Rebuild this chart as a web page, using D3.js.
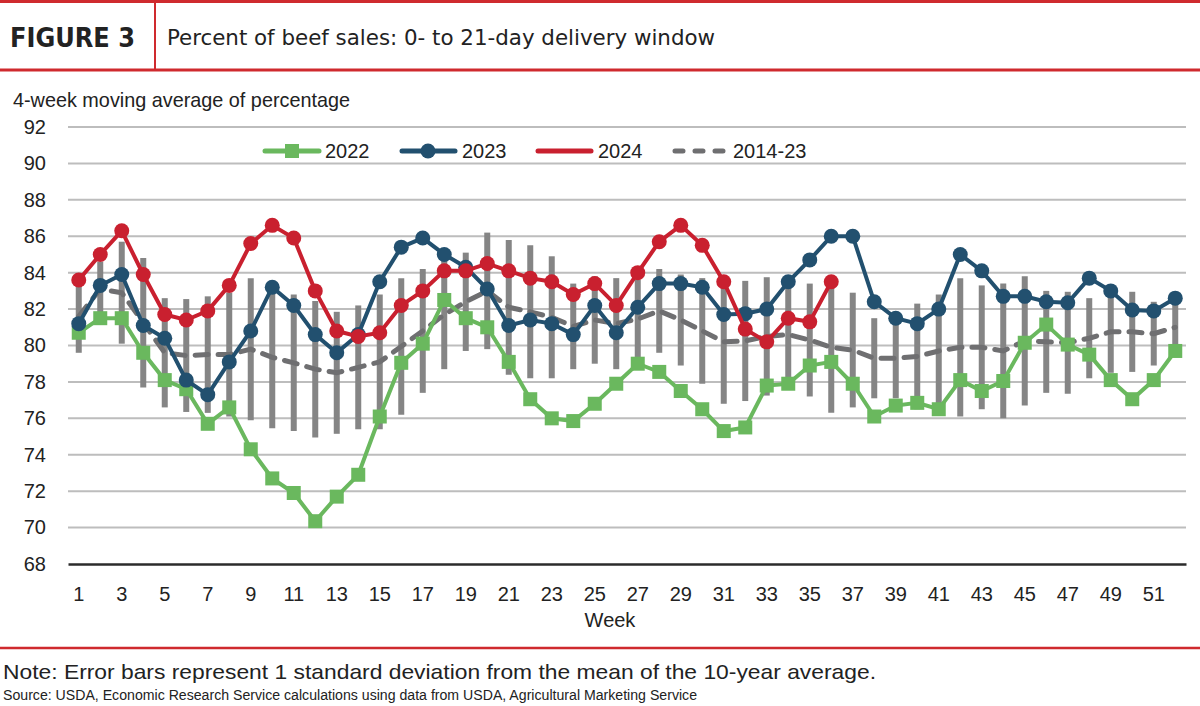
<!DOCTYPE html>
<html>
<head>
<meta charset="utf-8">
<script src="https://cdn.jsdelivr.net/npm/d3@7"></script>
<style>
  body { margin: 0; background: #fff; }
  svg { display: block; }
  .tick text { font-family: "Liberation Sans", Arial, sans-serif; font-size: 20px; fill: #222; }
</style>
</head>
<body>
<div id="chart"></div>
<script>
var weeks = d3.range(1, 53);
var yTicks = [68, 70, 72, 74, 76, 78, 80, 82, 84, 86, 88, 90, 92];
var xTicks = [1, 3, 5, 7, 9, 11, 13, 15, 17, 19, 21, 23, 25, 27, 29, 31, 33, 35, 37, 39, 41, 43, 45, 47, 49, 51];

var y2022 = [80.7, 81.5, 81.5, 79.6, 78.1, 77.6, 75.7, 76.6, 74.3, 72.7, 71.9, 70.35, 71.7, 72.9, 76.1, 79.05, 80.1, 82.5, 81.5, 81.0,
  79.1, 77.05, 76.0, 75.85, 76.8, 77.9, 79.0, 78.55, 77.5, 76.5, 75.3, 75.5, 77.8, 77.9, 78.9, 79.1, 77.9, 76.1, 76.7, 76.85,
  76.5, 78.1, 77.5, 78.05, 80.15, 81.15, 80.05, 79.5, 78.1, 77.05, 78.1, 79.7];
var y2023 = [81.2, 83.3, 83.9, 81.1, 80.4, 78.1, 77.3, 79.1, 80.8, 83.2, 82.2, 80.6, 79.6, 80.6, 83.5, 85.4, 85.9, 85.0, 84.3, 83.1,
  81.1, 81.4, 81.2, 80.6, 82.2, 80.7, 82.1, 83.4, 83.4, 83.2, 81.7, 81.75, 82.0, 83.5, 84.7, 86.0, 86.0, 82.4, 81.5, 81.2,
  82.0, 85.0, 84.1, 82.7, 82.7, 82.4, 82.35, 83.7, 83.0, 81.95, 81.9, 82.6];
var y2024 = [83.6, 85.0, 86.3, 83.9, 81.7, 81.4, 81.9, 83.3, 85.6, 86.6, 85.9, 83.0, 80.8, 80.5, 80.7, 82.2, 83.0, 84.1, 84.1, 84.5,
  84.1, 83.7, 83.5, 82.8, 83.4, 82.2, 84.0, 85.7, 86.6, 85.5, 83.5, 80.9, 80.2, 81.5, 81.3, 83.5];
// 10-year average (2014-23) and its standard deviation
var avg1423 = [81.6, 83.1, 82.9, 81.25, 79.6, 79.45, 79.5, 79.5, 79.8, 79.35, 79.05, 78.7, 78.5, 78.8, 79.1, 79.95, 80.8, 81.7, 82.4, 83.0,
  82.1, 81.85, 81.55, 81.05, 81.4, 81.2, 81.45, 81.9, 81.4, 80.8, 80.2, 80.25, 80.5, 80.6, 80.3, 79.9, 79.75, 79.3, 79.3, 79.4,
  79.7, 79.9, 79.9, 79.7, 80.25, 80.2, 80.15, 80.4, 80.75, 80.75, 80.65, 81.0];
var sd1423 = [2.0, 1.5, 2.8, 3.55, 3.0, 3.1, 3.2, 3.4, 3.9, 3.9, 3.75, 3.75, 3.35, 3.4, 3.7, 3.75, 3.4, 3.0, 2.7, 3.2,
  3.7, 3.65, 3.35, 2.35, 2.4, 2.5, 2.15, 2.3, 2.5, 2.9, 3.4, 3.3, 3.25, 3.0, 3.1, 3.6, 3.15, 2.2, 2.2, 2.9,
  3.1, 3.8, 3.4, 3.7, 3.55, 2.8, 2.8, 2.2, 2.25, 2.2, 1.75, 1.6];

var w = 1200;
var h = 706;
var green = "#6ab85e", blue = "#22506f", red = "#c9202f", barGrey = "#858585", dashGrey = "#6f6f71", hdrRed = "#cf2a2e";
var sans = '"Liberation Sans", Arial, sans-serif';

var svg = d3.select("#chart").append("svg").attr("width", w).attr("height", h);

// header
svg.append("line").attr("x1", 0).attr("x2", w).attr("y1", 1.5).attr("y2", 1.5).style("stroke", hdrRed).style("stroke-width", 3);
svg.append("line").attr("x1", 0).attr("x2", w).attr("y1", 70).attr("y2", 70).style("stroke", hdrRed).style("stroke-width", 3);
svg.append("line").attr("x1", 155).attr("x2", 155).attr("y1", 0).attr("y2", 70).style("stroke", hdrRed).style("stroke-width", 2);
svg.append("text").attr("x", 10).attr("y", 47).text("FIGURE 3")
  .attr("textLength", 125).attr("lengthAdjust", "spacingAndGlyphs")
  .style("font-family", "'DejaVu Sans Condensed', sans-serif").style("font-weight", "bold").style("font-size", "27px").style("fill", "#222");
svg.append("text").attr("x", 167).attr("y", 45).text("Percent of beef sales: 0- to 21-day delivery window")
  .attr("textLength", 548).attr("lengthAdjust", "spacingAndGlyphs")
  .style("font-family", "'DejaVu Sans Condensed', sans-serif").style("font-size", "22px").style("fill", "#222");

svg.append("text").attr("x", 13).attr("y", 107).text("4-week moving average of percentage")
  .attr("textLength", 337).attr("lengthAdjust", "spacingAndGlyphs")
  .style("font-family", sans).style("font-size", "21px").style("fill", "#222");

var xScale = d3.scaleBand().domain(weeks).range([68, 1186]);
var yScale = d3.scaleLinear().domain([68, 92]).range([564, 127]);
function xc(d) { return xScale(d) + xScale.bandwidth() / 2; }

// gridlines
svg.selectAll(".grid").data(yTicks.slice(1)).enter().append("line").attr("class", "grid")
  .attr("x1", 68).attr("x2", 1186)
  .attr("y1", function(d) { return yScale(d); }).attr("y2", function(d) { return yScale(d); })
  .style("stroke", "#bdbdbd").style("stroke-width", 2);

var yAxis = d3.axisLeft(yScale).tickValues(yTicks).tickSize(0).tickPadding(12);
svg.append("g").attr("transform", "translate(58,0)").call(yAxis).call(function(g) { g.select(".domain").remove(); });

var xAxis = d3.axisBottom(xScale).tickValues(xTicks).tickSize(0).tickPadding(23);
svg.append("g").attr("transform", "translate(0," + yScale(68) + ")").call(xAxis)
  .call(function(g) { g.select(".domain").style("stroke", "#2b2b2b").style("stroke-width", 2.5); });

svg.append("text").attr("x", 610).attr("y", 627).attr("text-anchor", "middle").text("Week")
  .style("font-family", sans).style("font-size", "20px").style("fill", "#222");

// error bars: 1 sd around the 10-year mean
svg.selectAll(".ebar").data(weeks).enter().append("line").attr("class", "ebar")
  .attr("x1", function(d) { return xc(d); }).attr("x2", function(d) { return xc(d); })
  .attr("y1", function(d, i) { return yScale(avg1423[i] + sd1423[i]); })
  .attr("y2", function(d, i) { return yScale(avg1423[i] - sd1423[i]); })
  .style("stroke", barGrey).style("stroke-width", 6);

var line = d3.line().x(function(d) { return xc(d[0]); }).y(function(d) { return yScale(d[1]); });
function pairs(vals) { return vals.map(function(v, i) { return [weeks[i], v]; }); }

svg.append("path").datum(pairs(avg1423)).attr("d", line)
  .style("fill", "none").style("stroke", dashGrey).style("stroke-width", 5)
  .style("stroke-dasharray", "13 10").style("stroke-linecap", "round");

// 2022
svg.append("path").datum(pairs(y2022)).attr("d", line).style("fill", "none").style("stroke", green).style("stroke-width", 4);
svg.selectAll(".m22").data(pairs(y2022)).enter().append("rect").attr("class", "m22")
  .attr("x", function(d) { return xc(d[0]) - 7; }).attr("y", function(d) { return yScale(d[1]) - 7; })
  .attr("width", 14).attr("height", 14).style("fill", green);

// 2023
svg.append("path").datum(pairs(y2023)).attr("d", line).style("fill", "none").style("stroke", blue).style("stroke-width", 4);
svg.selectAll(".m23").data(pairs(y2023)).enter().append("circle").attr("class", "m23")
  .attr("cx", function(d) { return xc(d[0]); }).attr("cy", function(d) { return yScale(d[1]); })
  .attr("r", 7.5).style("fill", blue);

// 2024
svg.append("path").datum(pairs(y2024)).attr("d", line).style("fill", "none").style("stroke", red).style("stroke-width", 4);
svg.selectAll(".m24").data(pairs(y2024)).enter().append("circle").attr("class", "m24")
  .attr("cx", function(d) { return xc(d[0]); }).attr("cy", function(d) { return yScale(d[1]); })
  .attr("r", 7.5).style("fill", red);

// legend
var ly = 151;
var lg = svg.append("g");
lg.append("line").attr("x1", 265).attr("x2", 319).attr("y1", ly).attr("y2", ly).style("stroke", green).style("stroke-width", 5).style("stroke-linecap", "round");
lg.append("rect").attr("x", 285).attr("y", ly - 7).attr("width", 14).attr("height", 14).style("fill", green);
lg.append("line").attr("x1", 402).attr("x2", 455).attr("y1", ly).attr("y2", ly).style("stroke", blue).style("stroke-width", 5).style("stroke-linecap", "round");
lg.append("circle").attr("cx", 428).attr("cy", ly).attr("r", 7.5).style("fill", blue);
lg.append("line").attr("x1", 538).attr("x2", 591).attr("y1", ly).attr("y2", ly).style("stroke", red).style("stroke-width", 5).style("stroke-linecap", "round");
lg.append("line").attr("x1", 675).attr("x2", 727).attr("y1", ly).attr("y2", ly).style("stroke", dashGrey).style("stroke-width", 5)
  .style("stroke-dasharray", "8 12").style("stroke-linecap", "round");
[["2022", 325], ["2023", 462], ["2024", 598], ["2014-23", 733]].forEach(function(d) {
  lg.append("text").attr("x", d[1]).attr("y", ly).attr("dy", ".36em").text(d[0])
    .style("font-family", sans).style("font-size", "20px").style("fill", "#222");
});

// footer
svg.append("line").attr("x1", 0).attr("x2", w).attr("y1", 648).attr("y2", 648).style("stroke", hdrRed).style("stroke-width", 2.5);
svg.append("text").attr("x", 3).attr("y", 679).text("Note: Error bars represent 1 standard deviation from the mean of the 10-year average.")
  .attr("textLength", 873).attr("lengthAdjust", "spacingAndGlyphs")
  .style("font-family", sans).style("font-size", "21px").style("fill", "#222");
svg.append("text").attr("x", 3).attr("y", 700).text("Source: USDA, Economic Research Service calculations using data from USDA, Agricultural Marketing Service")
  .attr("textLength", 694).attr("lengthAdjust", "spacingAndGlyphs")
  .style("font-family", sans).style("font-size", "14px").style("fill", "#222");
</script>
</body>
</html>
